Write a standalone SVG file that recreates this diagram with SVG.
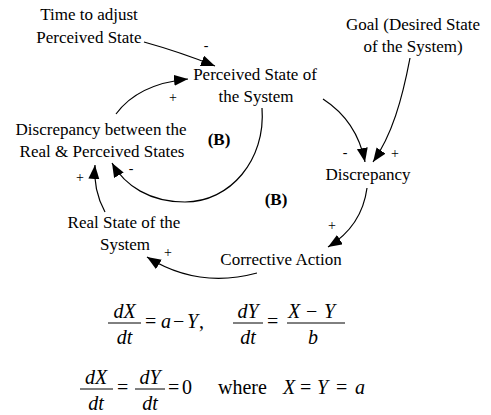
<svg xmlns="http://www.w3.org/2000/svg" width="491" height="415" viewBox="0 0 491 415">
<style>
text{font-family:"Liberation Serif","Times New Roman",serif;fill:#000}
.lb{font-size:17px;text-anchor:middle}
.b{font-size:17px;font-weight:bold;text-anchor:middle}
.s{font-size:14px;text-anchor:middle}
.eq{font-size:20px}
.i{font-style:italic}
.m{text-anchor:middle}
.c{fill:none;stroke:#000;stroke-width:1.2}
.bar{stroke:#000;stroke-width:1}
</style>
<defs>
<marker id="ah" markerUnits="userSpaceOnUse" markerWidth="16" markerHeight="12" refX="14" refY="5.5" orient="auto">
<path d="M0,0 L14,5.5 L0,11 Z" fill="#000"/>
</marker>
</defs>
<rect width="491" height="415" fill="#fff"/>
<g id="time"><text class="lb" x="89" y="20">Time to adjust</text><text class="lb" x="89" y="43">Perceived State</text></g>
<g id="goal"><text class="lb" x="413" y="30">Goal (Desired State</text><text class="lb" x="413" y="52">of the System)</text></g>
<g id="perceived"><text class="lb" x="255" y="80">Perceived State of</text><text class="lb" x="256" y="102">the System</text></g>
<g id="discbetween"><text class="lb" x="101" y="135">Discrepancy between the</text><text class="lb" x="102" y="157">Real &amp; Perceived States</text></g>
<g id="loop1"><text class="b" x="219" y="145">(B)</text></g>
<g id="discrepancy"><text class="lb" x="368" y="180">Discrepancy</text></g>
<g id="loop2"><text class="b" x="276" y="205">(B)</text></g>
<g id="corrective"><text class="lb" x="281" y="265">Corrective Action</text></g>
<g id="real"><text class="lb" x="124" y="228">Real State of the</text><text class="lb" x="125" y="250">System</text></g>
<g id="connectors">
<path class="c" d="M144,42 Q180,52 215,66" marker-end="url(#ah)"/>
<path class="c" d="M116,114 Q138,84 188,79" marker-end="url(#ah)"/>
<path class="c" d="M262,108 C266,160 230,202 185,202 C150,202 125,186 112,163" marker-end="url(#ah)"/>
<path class="c" d="M323,99 Q357,121 365,162" marker-end="url(#ah)"/>
<path class="c" d="M410,58 C402,100 392,135 373,162" marker-end="url(#ah)"/>
<path class="c" d="M367,188 Q362,226 328,247" marker-end="url(#ah)"/>
<path class="c" d="M257,273 Q198,289 147,257" marker-end="url(#ah)"/>
<path class="c" d="M105,212 Q93,190 95,165" marker-end="url(#ah)"/>
<text class="s" x="206" y="50">-</text>
<text class="s" x="173" y="102">+</text>
<text class="s" x="131" y="173">-</text>
<text class="s" x="80" y="182">+</text>
<text class="s" x="168" y="257">+</text>
<text class="s" x="345" y="157">-</text>
<text class="s" x="395" y="158">+</text>
<text class="s" x="332" y="230">+</text>
</g>
<g id="equations" class="eq">
<text class="i m" x="124.5" y="318">dX</text>
<line class="bar" x1="108" y1="323" x2="141" y2="323"/>
<text class="i m" x="124.5" y="344">dt</text>
<text x="145" y="328">=<tspan class="i" x="161">a</tspan><tspan x="173">−</tspan><tspan class="i" x="187">Y</tspan><tspan x="199">,</tspan></text>
<text class="i m" x="248" y="318">dY</text>
<line class="bar" x1="233" y1="323" x2="263" y2="323"/>
<text class="i m" x="248" y="344">dt</text>
<text x="267" y="328">=</text>
<text x="288" y="318"><tspan class="i">X</tspan><tspan x="306">−</tspan><tspan class="i" x="324">Y</tspan></text>
<line class="bar" x1="287" y1="323" x2="345" y2="323"/>
<text class="i m" x="313" y="344">b</text>
<text class="i m" x="96" y="384">dX</text>
<line class="bar" x1="80" y1="389" x2="113" y2="389"/>
<text class="i m" x="96" y="410">dt</text>
<text x="117" y="394">=</text>
<text class="i m" x="150" y="384">dY</text>
<line class="bar" x1="135" y1="389" x2="165" y2="389"/>
<text class="i m" x="150" y="410">dt</text>
<text x="168" y="394">=<tspan x="182">0</tspan><tspan x="218">where</tspan><tspan class="i" x="283">X</tspan><tspan x="300">=</tspan><tspan class="i" x="317">Y</tspan><tspan x="336">=</tspan><tspan class="i" x="355">a</tspan></text>
</g>
</svg>
